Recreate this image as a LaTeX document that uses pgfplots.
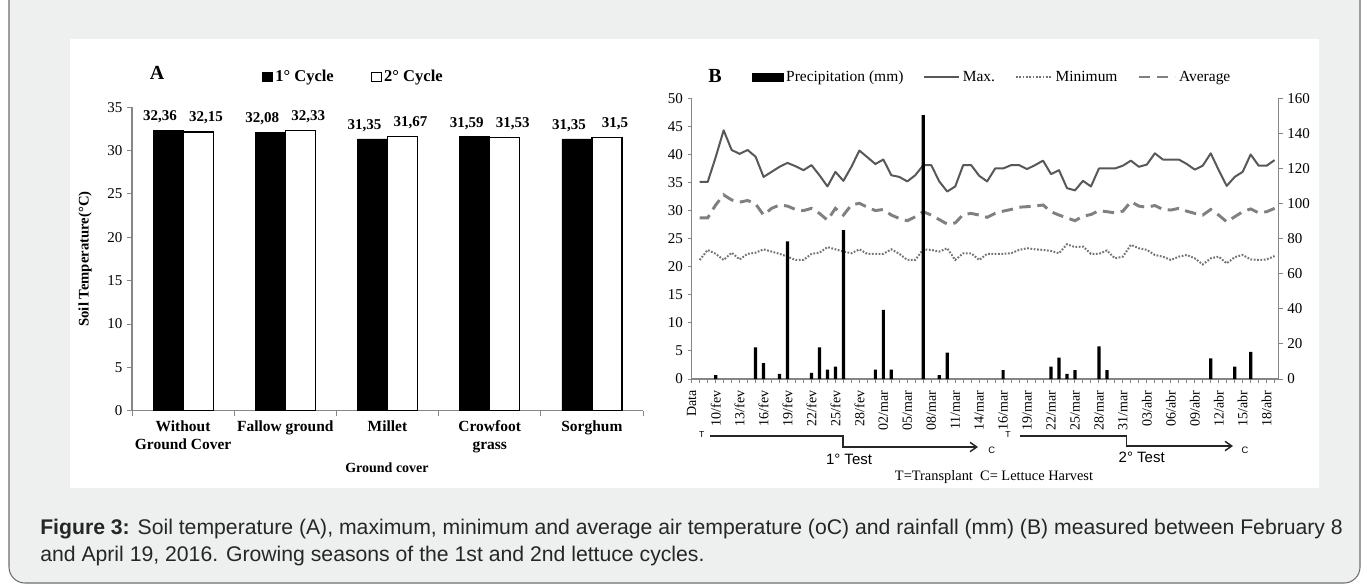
\documentclass[border=0pt]{standalone}
\usepackage{fontspec}
\setmainfont{Liberation Serif}
\newfontfamily\arialfont{Liberation Sans}
\usepackage{pgfplots}
\pgfplotsset{compat=1.18}
\usetikzlibrary{arrows.meta}
\definecolor{bgc}{RGB}{238,240,239}
\definecolor{framec}{RGB}{110,110,110}
\definecolor{axc}{RGB}{134,134,134}
\definecolor{maxc}{RGB}{88,88,88}
\definecolor{avgc}{RGB}{128,128,128}
\definecolor{minc}{RGB}{115,115,115}

\pgfplotstableread{
k v
1 35.1
2 35.1
3 39.5
4 44.3
5 40.8
6 40.1
7 40.8
8 39.6
9 36.0
10 36.9
11 37.8
12 38.5
13 37.9
14 37.2
15 38.1
16 36.3
17 34.3
18 36.9
19 35.3
20 37.8
21 40.7
22 39.5
23 38.3
24 39.1
25 36.3
26 36.0
27 35.2
28 36.3
29 38.1
30 38.1
31 35.2
32 33.4
33 34.3
34 38.1
35 38.1
36 36.2
37 35.2
38 37.5
39 37.5
40 38.1
41 38.1
42 37.4
43 38.1
44 38.9
45 36.5
46 37.2
47 34.0
48 33.6
49 35.3
50 34.3
51 37.5
52 37.5
53 37.5
54 38.0
55 38.9
56 37.8
57 38.2
58 40.2
59 39.1
60 39.1
61 39.1
62 38.3
63 37.3
64 38.0
65 40.2
66 37.2
67 34.4
68 36.0
69 36.9
70 40.0
71 38.0
72 38.0
73 39.0
}\maxtab

\pgfplotstableread{
k v
1 28.7
2 28.7
3 31.0
4 32.8
5 31.9
6 31.5
7 31.8
8 31.2
9 29.2
10 30.4
11 31.0
12 30.8
13 30.2
14 30.0
15 30.4
16 29.5
17 28.3
18 30.4
19 29.2
20 31.0
21 31.3
22 30.6
23 30.0
24 30.2
25 29.2
26 28.6
27 28.2
28 28.9
29 29.8
30 29.2
31 28.4
32 27.6
33 27.8
34 29.3
35 29.5
36 29.2
37 28.8
38 29.5
39 29.9
40 30.2
41 30.6
42 30.7
43 30.8
44 31.0
45 29.8
46 29.2
47 28.7
48 28.2
49 29.0
50 29.3
51 30.0
52 29.8
53 29.6
54 29.9
55 31.6
56 30.8
57 30.6
58 30.9
59 30.2
60 30.1
61 30.4
62 29.9
63 29.5
64 29.2
65 30.2
66 29.2
67 28.0
68 28.9
69 29.8
70 30.3
71 29.6
72 29.8
73 30.4
}\avgtab

\pgfplotstableread{
k v
1 21.2
2 23.0
3 22.3
4 21.2
5 22.5
6 21.3
7 22.3
8 22.5
9 23.1
10 22.7
11 22.3
12 21.8
13 21.2
14 21.2
15 22.3
16 22.5
17 23.5
18 23.1
19 22.7
20 22.4
21 23.1
22 22.3
23 22.3
24 22.3
25 23.1
26 22.3
27 21.2
28 21.2
29 23.1
30 23.0
31 22.7
32 23.3
33 21.2
34 22.4
35 22.4
36 21.2
37 22.3
38 22.3
39 22.3
40 22.4
41 23.0
42 23.3
43 23.1
44 23.0
45 22.8
46 22.4
47 24.0
48 23.5
49 23.6
50 22.3
51 22.3
52 22.9
53 21.5
54 21.8
55 23.9
56 23.3
57 23.0
58 22.1
59 21.8
60 21.2
61 21.8
62 22.1
63 21.5
64 20.4
65 21.5
66 21.8
67 20.6
68 21.7
69 22.1
70 21.3
71 21.2
72 21.3
73 21.9
}\mintab

\pgfplotstableread{
k v
3 2.2
8 18
9 9
11 2.9
12 78.4
15 3.5
16 18
17 5.4
18 7
19 84.8
23 5.4
24 39.4
25 5.4
29 150.4
31 2.2
32 15
39 5.1
45 7
46 12.2
47 2.9
48 5.1
51 18.6
52 5.1
65 11.8
68 7
70 15.4
}\preciptab

\begin{document}
\begin{tikzpicture}[x=0.75pt,y=-0.75pt]
\useasboundingbox (0,0) rectangle (1367,587);
\fill[white] (0,0) rectangle (1367,587);
\draw[fill=bgc, draw=framec, line width=0.8pt, rounded corners=12pt] (9,-20) rectangle (1360,583);
\fill[white] (70,39) rectangle (1319,488);

% ---------------- Panel A ----------------
\begin{axis}[
  at={(99pt,-308.025pt)}, anchor=south west,
  scale only axis, width=383.25pt, height=227.55pt,
  ybar=0pt, bar width=22.5pt,
  xmin=-0.5, xmax=4.5, ymin=0, ymax=35,
  axis x line*=bottom, axis y line*=left,
  axis line style={draw=axc, line width=0.9pt},
  xtick={0,1,2,3,4},
  xticklabels={{Without\\Ground Cover},{Fallow ground},{Millet},{Crowfoot\\grass},{Sorghum}},
  xticklabel style={align=center, font=\bfseries\fontsize{11.6}{13.5}\selectfont},
  major x tick style={draw=none},
  minor xtick={-0.5,0.5,1.5,2.5,3.5,4.5},
  ytick={0,5,...,35},
  yticklabel style={font=\fontsize{11.25}{13}\selectfont},
  tick align=outside, major tick length=3.75pt, minor tick length=3.75pt,
  tick style={draw=axc, line width=0.75pt},
  /pgf/number format/assume math mode=true,
  ylabel={Soil Temperature(°C)},
  ylabel style={font=\bfseries\fontsize{11}{13}\selectfont, at={(axis description cs:-0.092,0.5)}, anchor=center},
  xlabel={Ground cover},
  xlabel style={font=\bfseries\fontsize{10.5}{12}\selectfont, at={(axis description cs:0.499,-0.189)}, anchor=center},
  clip=false,
  legend style={at={(0.2544,1.0999)}, anchor=west, draw=none, fill=none, inner sep=0pt,
    legend columns=2, font=\bfseries\fontsize{12.4}{14}\selectfont,
    /tikz/every even column/.append style={column sep=26pt}},
  nodes near coords={\pgfmathprintnumber[fixed,precision=2,use comma,assume math mode=true]{\pgfplotspointmeta}},
  every node near coord/.append style={font=\bfseries\fontsize{11.25}{13}\selectfont, anchor=south, yshift=2pt},
]
\addplot[fill=black, draw=black, line width=0.6pt,
  every node near coord/.append style={xshift=-6pt},
  legend image code/.code={\draw[fill=black,draw=black] (0pt,-3.6pt) rectangle (7.2pt,3.6pt);}]
  coordinates {(0,32.36) (1,32.08) (2,31.35) (3,31.59) (4,31.35)};
\addlegendentry{1° Cycle}
\addplot[fill=white, draw=black, line width=0.9pt,
  every node near coord/.append style={xshift=6pt},
  legend image code/.code={\draw[fill=white,draw=black,line width=0.6pt] (0pt,-3.6pt) rectangle (7.2pt,3.6pt);}]
  coordinates {(0,32.15) (1,32.33) (2,31.67) (3,31.53) (4,31.5)};
\addlegendentry{2° Cycle}
\end{axis}

% ---------------- Panel B: temperatures (left axis) ----------------
\begin{axis}[
  at={(518.775pt,-284.25pt)}, anchor=south west,
  scale only axis, width=440.175pt, height=210.525pt,
  xmin=0, xmax=73.5, ymin=0, ymax=50,
  axis x line*=bottom, axis y line*=left,
  axis line style={draw=axc, line width=0.9pt},
  xtick={0,3,...,72},
  xticklabels={Data,10/fev,13/fev,16/fev,19/fev,22/fev,25/fev,28/fev,02/mar,05/mar,08/mar,11/mar,14/mar,16/mar,19/mar,22/mar,25/mar,28/mar,31/mar,03/abr,06/abr,09/abr,12/abr,15/abr,18/abr},
  xticklabel style={rotate=90, anchor=east, font=\fontsize{10.5}{12}\selectfont, xshift=-2pt},
  minor xtick={0,1,...,73},
  ytick={0,5,...,50},
  yticklabel style={font=\fontsize{11.25}{13}\selectfont},
  tick align=outside, major tick length=3pt, minor tick length=3pt,
  tick style={draw=axc, line width=0.75pt},
  /pgf/number format/assume math mode=true,
  clip=false,
  legend style={at={(0.1022,1.0759)}, anchor=west, draw=none, fill=none, inner sep=0pt,
    legend columns=4, font=\fontsize{11.6}{13}\selectfont,
    /tikz/every even column/.append style={column sep=13pt}},
]
\addlegendimage{legend image code/.code={\fill[black] (0pt,-3pt) rectangle (23.25pt,3pt);}}
\addlegendentry{Precipitation (mm)}
\addplot[maxc, line width=1.5pt, line join=round,
  legend image code/.code={\draw[maxc, line width=1.5pt] (0pt,0pt) -- (26pt,0pt);}] table[x=k,y=v] {\maxtab};
\addlegendentry{Max.}
\addplot[minc, line width=1.5pt, dash pattern=on 1.3pt off 1.2pt,
  legend image code/.code={\draw[minc, line width=1.5pt, dash pattern=on 1.3pt off 1.2pt] (0pt,0pt) -- (27pt,0pt);}] table[x=k,y=v] {\mintab};
\addlegendentry{Minimum}
\addplot[avgc, line width=2.2pt, dash pattern=on 8.5pt off 5pt,
  legend image code/.code={\draw[avgc, line width=2.2pt, dash pattern=on 8.5pt off 5pt] (0pt,0pt) -- (27pt,0pt);}] table[x=k,y=v] {\avgtab};
\addlegendentry{Average}
\end{axis}

% ---------------- Panel B: precipitation (right axis) ----------------
\begin{axis}[
  at={(518.775pt,-284.25pt)}, anchor=south west,
  scale only axis, width=440.175pt, height=210.525pt,
  xmin=0, xmax=73.5, ymin=0, ymax=160,
  axis x line=none, axis y line*=right,
  axis line style={draw=axc, line width=0.9pt},
  ytick={0,20,...,160},
  yticklabel style={font=\fontsize{11.25}{13}\selectfont},
  tick align=outside, major tick length=3pt,
  tick style={draw=axc, line width=0.75pt},
  /pgf/number format/assume math mode=true,
  ybar, bar width=2.4pt,
]
\addplot[fill=black, draw=none] table[x=k,y=v] {\preciptab};
\end{axis}

% ---------------- annotations ----------------
\node[font=\bfseries\fontsize{15}{15}\selectfont] at (157,73) {A};
\node[font=\bfseries\fontsize{15}{15}\selectfont] at (715,76) {B};

\draw[line width=1.1pt, draw=black!85, -{Straight Barb[length=5pt,width=7pt]}]
  (710,436) -- (843,436) -- (843,447) -- (978,447);
\node[font=\arialfont\fontsize{6.5}{7}\selectfont] at (701.7,435) {T};
\node[font=\arialfont\fontsize{7}{8}\selectfont] at (991.7,450) {C};
\node[font=\arialfont\fontsize{11.25}{12}\selectfont] at (849,459) {1° Test};

\draw[line width=1.1pt, draw=black!85, -{Straight Barb[length=5pt,width=7pt]}]
  (1020,436) -- (1126.7,436) -- (1126.7,446) -- (1233,446);
\node[font=\arialfont\fontsize{6.5}{7}\selectfont] at (1008,435) {T};
\node[font=\arialfont\fontsize{7}{8}\selectfont] at (1245,450) {C};
\node[font=\arialfont\fontsize{11.25}{12}\selectfont] at (1141.7,457) {2° Test};

\node[font=\fontsize{10.8}{12}\selectfont] at (994,477) {T=Transplant\ \ C= Lettuce Harvest};

% ---------------- caption ----------------
\node[anchor=west, inner sep=0pt, text=black!85, font=\arialfont\fontsize{15.9}{18}\selectfont] at (40,529)
  {\textbf{Figure 3:} Soil temperature (A), maximum, minimum and average air temperature (oC) and rainfall (mm) (B) measured between February 8};
\node[anchor=west, inner sep=0pt, text=black!85, font=\arialfont\fontsize{15.9}{18}\selectfont] at (40,556)
  {and April 19, 2016. Growing seasons of the 1st and 2nd lettuce cycles.};
\end{tikzpicture}
\end{document}
